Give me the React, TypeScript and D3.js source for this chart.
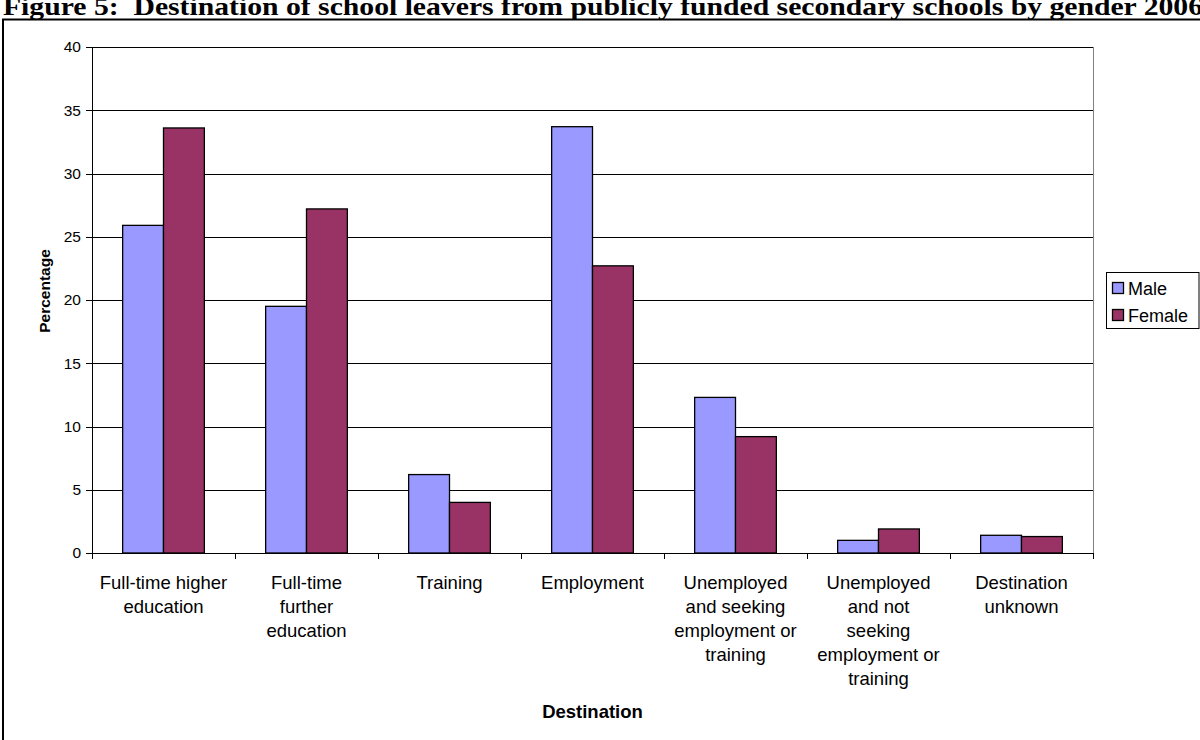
import React from "react";
import * as d3 from "d3";

const categories: string[][] = [
  ["Full-time higher", "education"],
  ["Full-time", "further", "education"],
  ["Training"],
  ["Employment"],
  ["Unemployed", "and seeking", "employment or", "training"],
  ["Unemployed", "and not", "seeking", "employment or", "training"],
  ["Destination", "unknown"],
];
const maleValues = [25.9, 19.5, 6.2, 33.7, 12.3, 1.0, 1.4];
const femaleValues = [33.6, 27.2, 4.0, 22.7, 9.2, 1.9, 1.3];
const seriesNames = ["Male", "Female"];
const seriesColors = ["#9999FF", "#993366"];
const yTicks = [0, 5, 10, 15, 20, 25, 30, 35, 40];
const title =
  "Figure 5:  Destination of school leavers from publicly funded secondary schools by gender 2006";

export default function App() {
  const W = 1200;
  const H = 740;
  const left = 92;
  const right = 1093;
  const top = 47;
  const bottom = 553;

  const x = d3
    .scaleBand<number>()
    .domain(d3.range(categories.length))
    .range([left, right])
    .paddingInner(0)
    .paddingOuter(0);
  const bw = x.bandwidth();
  const barW = bw / 3.5;
  const y = d3.scaleLinear().domain([0, 40]).range([bottom, top]);
  const series = [maleValues, femaleValues];
  const font = "Arial, 'Liberation Sans', sans-serif";

  return (
    <svg
      width={W}
      height={H}
      style={{ position: "absolute", left: 0, top: 0, display: "block" }}
    >
      <rect x={0} y={0} width={W} height={H} fill="#fff" />
      <text
        x={3}
        y={15}
        fontFamily="'Liberation Serif', 'Times New Roman', serif"
        fontWeight="bold"
        fontSize={26}
        fill="#000"
        textLength={1200}
        lengthAdjust="spacingAndGlyphs"
        style={{ whiteSpace: "pre" }}
      >
        {title}
      </text>
      {/* outer frame */}
      <rect
        x={3}
        y={19.5}
        width={W + 10}
        height={H + 10}
        fill="none"
        stroke="#000"
        strokeWidth={2}
      />
      {/* gridlines */}
      {yTicks.map((t) => (
        <line
          key={"g" + t}
          x1={left - 6}
          x2={right}
          y1={Math.round(y(t)) + 0.5}
          y2={Math.round(y(t)) + 0.5}
          stroke="#000"
          strokeWidth={1}
        />
      ))}
      {/* plot border right */}
      <line
        x1={right + 0.5}
        x2={right + 0.5}
        y1={top}
        y2={bottom}
        stroke="#808080"
        strokeWidth={1}
      />
      {/* bars */}
      {categories.map((_, i) =>
        series.map((vals, s) => {
          const x0 = (x(i) as number) + (bw - 2 * barW) / 2 + s * barW;
          return (
            <rect
              key={`b${i}-${s}`}
              x={x0}
              y={y(vals[i])}
              width={barW}
              height={y(0) - y(vals[i])}
              fill={seriesColors[s]}
              stroke="#000"
              strokeWidth={1.3}
            />
          );
        })
      )}
      {/* axes */}
      <line x1={left + 0.5} x2={left + 0.5} y1={top} y2={bottom} stroke="#000" />
      <line x1={left} x2={right} y1={bottom + 0.5} y2={bottom + 0.5} stroke="#000" />
      {d3.range(categories.length + 1).map((i) => {
        const xx = Math.round(left + i * bw) + 0.5;
        return (
          <line
            key={"xt" + i}
            x1={xx}
            x2={xx}
            y1={bottom}
            y2={bottom + 6}
            stroke="#000"
          />
        );
      })}
      {yTicks.map((t) => (
        <text
          key={"yl" + t}
          x={81}
          y={y(t)}
          dy="0.35em"
          textAnchor="end"
          fontFamily={font}
          fontSize={15.5}
          fill="#000"
        >
          {t}
        </text>
      ))}
      {categories.map((lines, i) =>
        lines.map((ln, j) => (
          <text
            key={`cl${i}-${j}`}
            x={(x(i) as number) + bw / 2}
            y={582.5 + j * 24}
            dy="0.35em"
            textAnchor="middle"
            fontFamily={font}
            fontSize={18.5}
            fill="#000"
          >
            {ln}
          </text>
        ))
      )}
      <text
        x={(left + right) / 2}
        y={711.5}
        dy="0.35em"
        textAnchor="middle"
        fontFamily={font}
        fontSize={18.5}
        fontWeight="bold"
        fill="#000"
      >
        Destination
      </text>
      <text
        transform={`translate(45,291) rotate(-90)`}
        dy="0.35em"
        textAnchor="middle"
        fontFamily={font}
        fontSize={15.5}
        fontWeight="bold"
        fill="#000"
      >
        Percentage
      </text>
      {/* legend */}
      <rect
        x={1106.5}
        y={272.5}
        width={92.5}
        height={56}
        fill="#fff"
        stroke="#000"
        strokeWidth={1}
      />
      {seriesNames.map((n, s) => (
        <g key={"lg" + s}>
          <rect
            x={1112.5}
            y={282.5 + s * 27}
            width={11}
            height={11}
            fill={seriesColors[s]}
            stroke="#000"
            strokeWidth={1.3}
          />
          <text
            x={1128}
            y={288.5 + s * 27}
            dy="0.35em"
            fontFamily={font}
            fontSize={18}
            fill="#000"
          >
            {n}
          </text>
        </g>
      ))}
    </svg>
  );
}
